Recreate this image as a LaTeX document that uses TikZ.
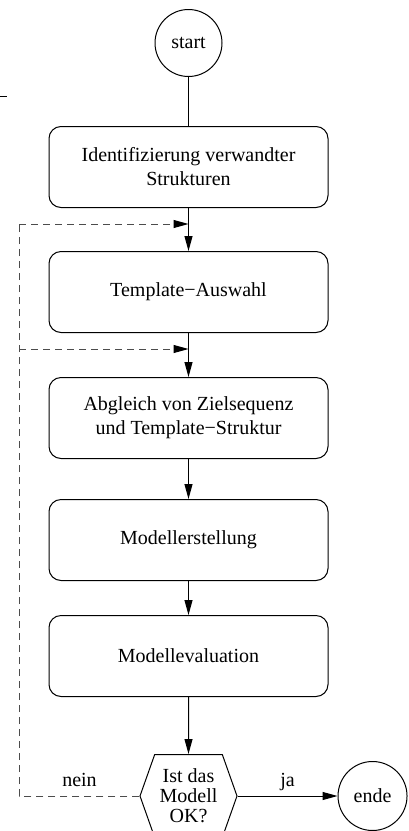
\documentclass[tikz,border=0pt]{standalone}
\usepackage{fontspec}
\setmainfont{Liberation Serif}
\usepackage{tikz}
\usetikzlibrary{arrows.meta, positioning, shapes.symbols, calc}

\tikzset{
    stepbox/.style={draw, rounded corners=6pt, minimum width=139.5pt, minimum height=40.5pt, align=center},
    term/.style={draw, circle, minimum size=33.5pt, inner sep=0pt},
    decision/.style={draw, signal, signal to=west and east, signal pointer angle=141, minimum width=48.5pt, minimum height=41.5pt, inner sep=0pt, align=center, font=\fontsize{10}{10}\selectfont},
    flow/.style={-{Triangle[length=7.5pt, width=4pt, black]}},
    back/.style={dash pattern=on 3.5pt off 2.5pt, draw=black!70},
    lbl/.style={above, inner sep=4.3pt, text depth=0pt, text=black}
}

\begin{document}
\begin{tikzpicture}[x=0.5pt, y=-0.5pt, line width=0.5pt, font=\fontsize{10}{12}\selectfont]
    \useasboundingbox (0,0) rectangle (408,831);

    \node[term] (start) at (188.5,43) {start};
    \node[stepbox, below=24.5pt of start] (ident) {Identifizierung verwandter\\Strukturen};
    \node[stepbox, below=21.5pt of ident] (templ) {Template−Auswahl};
    \node[stepbox, below=22pt of templ] (align) {Abgleich von Zielsequenz\\und Template−Struktur};
    \node[stepbox, below=20pt of align] (build) {Modellerstellung};
    \node[stepbox, below=17pt of build] (eval) {Modellevaluation};
    \node[decision, below=28.5pt of eval] (check) {Ist das\\Modell\\OK?};
    \node[term, minimum size=34.5pt, right=50pt of check] (ende) {ende};

    \coordinate (j1) at ($(ident.south)+(0,-8pt)$);
    \coordinate (j2) at ($(templ.south)+(0,-8pt)$);
    \coordinate (fb) at ($(check.west)+(-60pt,0)$);

    \draw (start) -- (ident);
    \draw[flow] (ident) -- (templ);
    \draw[flow] (templ) -- (align);
    \draw[flow] (align) -- (build);
    \draw[flow] (build) -- (eval);
    \draw[flow] (eval) -- (check);
    \draw[flow] (check.east) -- node[lbl] {ja} (ende);

    % Rueckkopplung
    \draw[back] (check.west) -- node[lbl] {nein} (fb) -- (fb |- j1);
    \draw[back, flow] (fb |- j1) -- (j1);
    \draw[back, flow] (fb |- j2) -- (j2);

    \draw (0,96.7) -- (7,96.7);
\end{tikzpicture}
\end{document}
